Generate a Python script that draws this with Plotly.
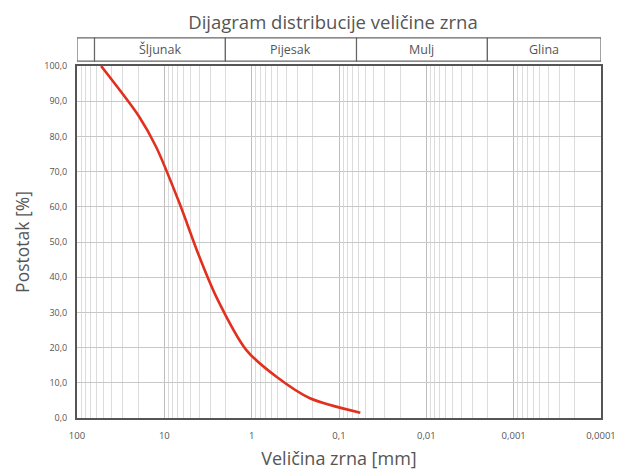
import math
import plotly.graph_objects as go

# --- data ---
grain_size_mm = [53, 19.4, 12.4, 6.7, 4.0, 2.55, 1.15, 0.52, 0.215, 0.057]
passing_pct = [100, 85.6, 77.0, 61.0, 46.0, 34.5, 19.3, 11.7, 5.6, 1.5]

x_tick_vals = [100, 10, 1, 0.1, 0.01, 0.001, 0.0001]
x_tick_text = ["100", "10", "1", "0,1", "0,01", "0,001", "0,0001"]
y_tick_vals = [0, 10, 20, 30, 40, 50, 60, 70, 80, 90, 100]
y_tick_text = ["0,0", "10,0", "20,0", "30,0", "40,0", "50,0", "60,0", "70,0", "80,0", "90,0", "100,0"]

zone_bounds = [100, 63, 2, 0.063, 0.002, 0.0001]
zone_labels = ["", "Šljunak", "Pijesak", "Mulj", "Glina"]

minor_vals = [m * 10 ** e for e in range(-4, 2) for m in range(2, 10)]

FONT = "Open Sans"
TXT = "#555555"

fig = go.Figure()
fig.add_trace(go.Scatter(
    x=grain_size_mm, y=passing_pct, mode="lines",
    line=dict(color="#e2301f", width=2.6, shape="spline", smoothing=0.8),
    showlegend=False, hoverinfo="x+y",
))

shapes = []
annotations = []
y0h, y1h = 1.014, 1.080
for i, lab in enumerate(zone_labels):
    a, b = zone_bounds[i], zone_bounds[i + 1]
    shapes.append(dict(type="rect", xref="x", yref="paper", x0=a, x1=b, y0=y0h, y1=y1h,
                       line=dict(color="#666666", width=1.2), fillcolor="white", layer="above"))
    if lab:
        xm = (math.log10(a) + math.log10(b)) / 2
        annotations.append(dict(x=xm, y=(y0h + y1h) / 2, xref="x", yref="paper", text=lab,
                                xanchor="center", yanchor="middle", showarrow=False,
                                font=dict(family=FONT, size=12.5, color=TXT)))

fig.update_layout(
    width=633, height=471,
    margin=dict(l=77, r=32, t=66, b=53),
    paper_bgcolor="white", plot_bgcolor="white",
    title=dict(text="Dijagram distribucije veličine zrna", x=0.526, xanchor="center", y=0.953, yanchor="middle",
               font=dict(family=FONT, size=18.5, color=TXT)),
    shapes=shapes, annotations=annotations,
    xaxis=dict(type="log", range=[2, -4], tickmode="array", tickvals=x_tick_vals, ticktext=x_tick_text,
               automargin=False,
               showgrid=True, gridcolor="#bdbdbd", gridwidth=1,
               minor=dict(tickmode="array", tickvals=minor_vals, showgrid=True, gridcolor="#dcdcdc", gridwidth=1),
               showline=True, linecolor="#555555", linewidth=2, mirror=True,
               ticks="", ticklabelstandoff=8, tickfont=dict(family=FONT, size=9.5, color=TXT),
               title=dict(text="Veličina zrna [mm]", font=dict(family=FONT, size=18, color=TXT), standoff=11),
               zeroline=False),
    yaxis=dict(range=[0, 100], tickmode="array", tickvals=y_tick_vals, ticktext=y_tick_text,
               automargin=False,
               showgrid=True, gridcolor="#c8c8c8", gridwidth=1,
               showline=True, linecolor="#555555", linewidth=2, mirror=True,
               ticks="", ticklabelstandoff=6, tickfont=dict(family=FONT, size=9, color=TXT),
               title=dict(text="Postotak [%]", font=dict(family=FONT, size=17.5, color=TXT), standoff=10),
               zeroline=False),
)

fig.write_html("out.html", config={"displayModeBar": False},
               post_script="document.body.style.margin='0';")
